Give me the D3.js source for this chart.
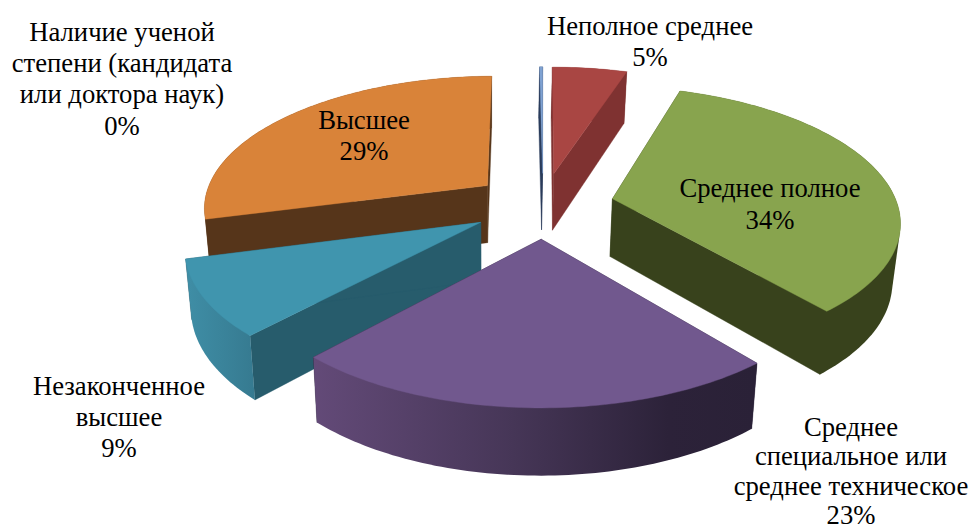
<!DOCTYPE html>
<html lang="ru">
<head>
<meta charset="utf-8">
<script src="https://cdn.jsdelivr.net/npm/d3@7/dist/d3.min.js"></script>
<style>
html,body{margin:0;padding:0;background:#fff;}
text{font-family:"Liberation Serif","Times New Roman",serif;font-size:26.67px;fill:#000;text-anchor:middle;}
</style>
</head>
<body>
<svg id="c" width="970" height="530"></svg>
<script>
// Data
const categories = ["Неполное среднее","Среднее полное","Среднее специальное или среднее техническое","Незаконченное высшее","Высшее","Наличие ученой степени (кандидата или доктора наук)"];
const values = [5,34,23,9,29,0.2];
const percentLabels = ["5%","34%","23%","9%","29%","0%"];
const labelLines = [["Неполное среднее"],["Среднее полное"],["Среднее","специальное или","среднее техническое"],["Незаконченное","высшее"],["Высшее"],["Наличие ученой","степени (кандидата","или доктора наук)"]];

// Styles
const topColors = ["#a94643","#88a44e","#71588e","#4095ae","#d98339","#7fa2d2"];
const faceColors = ["#7f3231","#38421c","#2c2239","#275c6c","#56351a","#2a3c5c"];
const wallStops = [
  [[0,"#7f3231"],[1,"#7f3231"]],
  [[0,"#38421c"],[1,"#38421c"]],
  [[0,"#634a78"],[0.45,"#463657"],[0.8,"#2c2239"],[1,"#2a2137"]],
  [[0,"#3f8ea6"],[1,"#367a90"]],
  [[0,"#56351a"],[1,"#56351a"]],
  [[0,"#2a3c5c"],[1,"#2a3c5c"]]
];
// label layout: centre x, baseline of first line, line step
const labelLayout = [[650,35,31],[770,197,32],[851,436,29.3],[119,395,31],[364,129,31],[122,41,31.2]];
const drawOrder = [5,0,4,1,3,2];

// Projection
const cx=543, cy=205, explode=0.25, persp=6.58, lowCx=491;
const sx=d3.scaleLinear().domain([-1,1]).range([-285,285]);
const sy=d3.scaleLinear().domain([-1,1]).range([-131.5,131.5]);
function project(X,Z,low){
  const s=1/(1-Z/persp);
  let x=cx+sx(X)*s, y=sy(Z)*s;
  if(low){x=lowCx+(x-lowCx)*0.98; y=y*1.048+58;}
  return [x,cy+y];
}
const pts=(a,r,mid)=>{ // a: pie angle, clockwise from up
  const X=explode*Math.sin(mid)+r*Math.sin(a);
  const Z=-explode*Math.cos(mid)-r*Math.cos(a);
  return [X,Z];
};
const line=d3.line();
const arcs=d3.pie().sort(null).startAngle(0).endAngle(2*Math.PI)(values);

const svg=d3.select("#c");
const defs=svg.append("defs");

function arcSamples(d){
  const n=Math.max(2,Math.ceil((d.endAngle-d.startAngle)/0.02));
  return d3.range(n+1).map(i=>d.startAngle+(d.endAngle-d.startAngle)*i/n);
}

const g=svg.append("g");
drawOrder.forEach(i=>{
  const d=arcs[i];
  const mid=(d.startAngle+d.endAngle)/2;
  const P=(a,r,low)=>project(...pts(a,r,mid),low);
  const A=arcSamples(d);
  // radial faces
  [d.startAngle,d.endAngle].forEach(a=>{
    g.append("path").attr("d",line([P(a,0,false),P(a,1,false),P(a,1,true),P(a,0,true)])+"Z")
      .attr("fill",faceColors[i]).attr("stroke",faceColors[i]).attr("stroke-width",0.4);
  });
  // outer wall: hull of both rims; the top surface covers its upper part
  const topEdge=A.map(a=>P(a,1,false)), lowEdge=A.map(a=>P(a,1,true));
  const all=topEdge.concat(lowEdge);
  const xs=all.map(p=>p[0]);
  const id="wall"+i;
  const gr=defs.append("linearGradient").attr("id",id).attr("gradientUnits","userSpaceOnUse")
    .attr("x1",d3.min(xs)).attr("x2",d3.max(xs)).attr("y1",0).attr("y2",0);
  wallStops[i].forEach(s=>gr.append("stop").attr("offset",s[0]).attr("stop-color",s[1]));
  g.append("path").attr("d",line(d3.polygonHull(all))+"Z").attr("fill","url(#"+id+")");
  // top
  g.append("path").attr("d",line([P(0,0,false)].concat(topEdge))+"Z").attr("fill",topColors[i]).attr("stroke",topColors[i]).attr("stroke-width",0.4);
});

// Labels
categories.forEach((c,i)=>{
  const [x,y,step]=labelLayout[i];
  const lines=labelLines[i].concat([percentLabels[i]]);
  const t=svg.append("text");
  lines.forEach((l,k)=>t.append("tspan").attr("x",x).attr("y",y+k*step).text(l));
});
</script>
</body>
</html>
